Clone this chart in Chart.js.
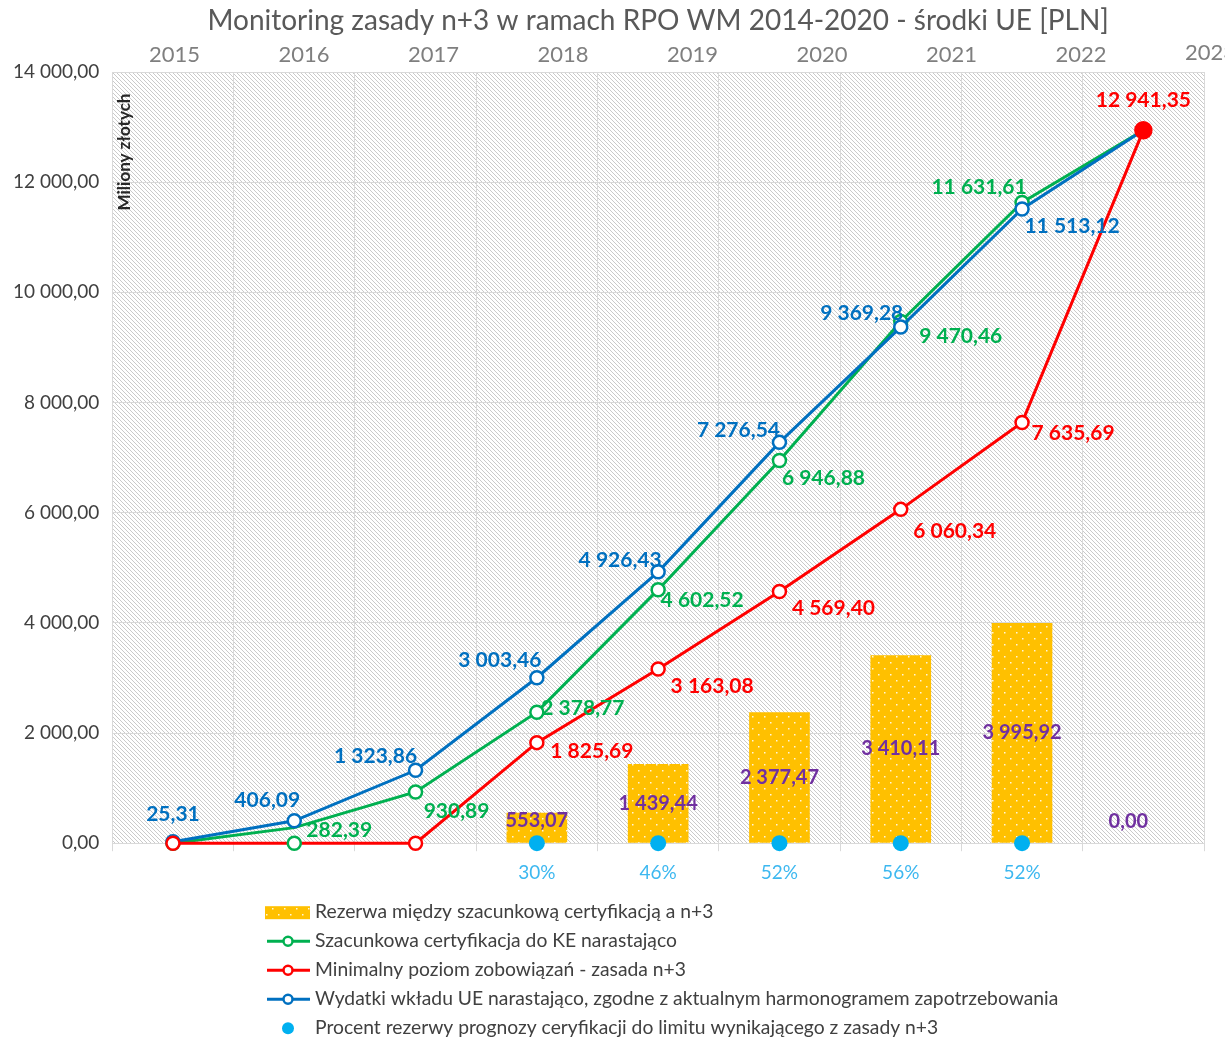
<!DOCTYPE html>
<html>
<head>
<meta charset="utf-8">
<script src="https://cdn.jsdelivr.net/npm/chart.js@4.4.1/dist/chart.umd.min.js"></script>
<style>
  html, body { margin: 0; padding: 0; background: #fff; }
  #wrap { width: 1225px; height: 1039px; }
</style>
</head>
<body>
<div id="wrap"><canvas id="myChart"></canvas></div>
<script>
// dane
const categories = ['2015', '2016', '2017', '2018', '2019', '2020', '2021', '2022', '2023'];
const yearTicks = [2015, 2016, 2017, 2018, 2019, 2020, 2021, 2022, 2023];
const yTicks = [0, 2000, 4000, 6000, 8000, 10000, 12000, 14000];
const wydatki = [25.31, 406.09, 1323.86, 3003.46, 4926.43, 7276.54, 9369.28, 11513.12, 12941.35];
const certyfikacja = [0, 282.39, 930.89, 2378.77, 4602.52, 6946.88, 9470.46, 11631.61, 12941.35];
const minimalny = [0, 0, 0, 1825.69, 3163.08, 4569.40, 6060.34, 7635.69, 12941.35];
const rezerwa = [null, null, null, 553.07, 1439.44, 2377.47, 3410.11, 3995.92, 0];
const procent = [null, null, null, 30, 46, 52, 56, 52, null];

const FONT = 'Lato, "Open Sans", sans-serif';

// 12 345,67
function fmt(v) {
    const parts = v.toFixed(2).split('.');
    return parts[0].replace(/\B(?=(\d{3})+(?!\d))/g, ' ') + ',' + parts[1];
}

// tlo w ukosne kreski
function hatchPattern() {
    const c = document.createElement('canvas');
    c.width = 4; c.height = 4;
    const g = c.getContext('2d');
    g.fillStyle = '#ffffff';
    g.fillRect(0, 0, 4, 4);
    g.strokeStyle = '#cacaca';
    g.lineWidth = 1;
    g.beginPath();
    g.moveTo(-1, -1); g.lineTo(5, 5);
    g.moveTo(-1, 3); g.lineTo(1, 5);
    g.moveTo(3, -1); g.lineTo(5, 1);
    g.stroke();
    return g.createPattern(c, 'repeat');
}

// zolte slupki w kropki
function dotPattern() {
    const c = document.createElement('canvas');
    c.width = 12; c.height = 12;
    const g = c.getContext('2d');
    g.fillStyle = '#FFC000';
    g.fillRect(0, 0, 12, 12);
    g.fillStyle = 'rgba(255,255,255,0.85)';
    g.fillRect(2, 2, 1.5, 1.5);
    g.fillRect(8, 8, 1.5, 1.5);
    return g.createPattern(c, 'repeat');
}

const barFill = dotPattern();

const plotBackground = {
    id: 'plotBackground',
    beforeDraw(chart) {
        const a = chart.chartArea;
        const ctx = chart.ctx;
        ctx.save();
        ctx.fillStyle = hatchPattern();
        ctx.fillRect(a.left, a.top, a.right - a.left, a.bottom - a.top);
        ctx.restore();
    }
};

const valueLabels = {
    id: 'valueLabels',
    afterDatasetsDraw(chart) {
        const ctx = chart.ctx;
        ctx.save();
        ctx.textAlign = 'center';
        ctx.textBaseline = 'middle';
        chart.data.datasets.forEach((ds, di) => {
            const meta = chart.getDatasetMeta(di);
            if (ds.labelOffsets) {
                ctx.font = 'bold 21px ' + FONT;
                ctx.fillStyle = ds.labelColor;
                ds.labelOffsets.forEach((off, i) => {
                    if (!off || ds.data[i] == null) return;
                    const p = meta.data[i];
                    ctx.fillText(fmt(ds.data[i]), p.x + off[0], p.y + off[1]);
                });
            }
            if (ds.type === 'bar') {
                ctx.font = 'bold 20px ' + FONT;
                ctx.fillStyle = '#7030A0';
                meta.data.forEach((b, i) => {
                    if (ds.data[i] == null) return;
                    const y = Math.min((b.y + b.base) / 2, b.base - 22);
                    const dx = ds.data[i] === 0 ? -15 : 0;
                    ctx.fillText(fmt(ds.data[i]), b.x + dx, y);
                });
            }
        });
        ctx.restore();
    }
};

const extras = {
    id: 'extras',
    afterDraw(chart) {
        const ctx = chart.ctx;
        const a = chart.chartArea;
        ctx.save();
        // tytul osi Y wewnatrz wykresu
        ctx.translate(a.left + 12, a.top + 80);
        ctx.rotate(-Math.PI / 2);
        ctx.font = 'bold 17px ' + FONT;
        ctx.fillStyle = '#262626';
        ctx.textAlign = 'center';
        ctx.textBaseline = 'middle';
        ctx.fillText('Miliony złotych', 0, 0);
        ctx.restore();

        // ostatni rok na gornej osi (wychodzi poza obszar)
        const top = chart.scales.x2;
        ctx.save();
        ctx.font = '22px ' + FONT;
        ctx.fillStyle = '#7f7f7f';
        ctx.textAlign = 'center';
        ctx.textBaseline = 'middle';
        const lastYear = yearTicks[yearTicks.length - 1];
        ctx.fillText(String(lastYear), top.getPixelForValue(lastYear), top.bottom - 19);
        ctx.restore();

        // legenda
        const items = [
            { ds: 0, kind: 'bar' },
            { ds: 1, kind: 'line' },
            { ds: 2, kind: 'line' },
            { ds: 3, kind: 'line' },
            { ds: 4, kind: 'dot' }
        ];
        const x0 = 265;
        let y = a.bottom + 69;
        ctx.save();
        ctx.font = '19.3px ' + FONT;
        ctx.textBaseline = 'middle';
        items.forEach(it => {
            const ds = chart.data.datasets[it.ds];
            if (it.kind === 'bar') {
                ctx.fillStyle = barFill;
                ctx.fillRect(x0, y - 6, 45, 13);
            } else if (it.kind === 'line') {
                ctx.strokeStyle = ds.borderColor;
                ctx.lineWidth = 3;
                ctx.beginPath();
                ctx.moveTo(x0 + 2, y);
                ctx.lineTo(x0 + 45, y);
                ctx.stroke();
                ctx.beginPath();
                ctx.arc(x0 + 23, y, 4.5, 0, Math.PI * 2);
                ctx.fillStyle = '#fff';
                ctx.fill();
                ctx.lineWidth = 2.5;
                ctx.stroke();
            } else {
                ctx.beginPath();
                ctx.arc(x0 + 23, y, 6, 0, Math.PI * 2);
                ctx.fillStyle = ds.backgroundColor;
                ctx.fill();
            }
            ctx.fillStyle = '#404040';
            ctx.fillText(ds.label, x0 + 50, y);
            y += 29;
        });
        ctx.restore();
    }
};

const ctx = document.getElementById('myChart').getContext('2d');
const myChart = new Chart(ctx, {
    type: 'bar',
    data: {
        labels: categories,
        datasets: [
            {
                type: 'bar',
                label: 'Rezerwa między szacunkową certyfikacją a n+3',
                data: rezerwa,
                backgroundColor: barFill,
                barPercentage: 0.5,
                categoryPercentage: 1,
                order: 5
            },
            {
                type: 'line',
                label: 'Szacunkowa certyfikacja do KE narastająco',
                data: certyfikacja,
                borderColor: '#00B050',
                backgroundColor: '#ffffff',
                pointBorderColor: '#00B050',
                pointBackgroundColor: '#ffffff',
                borderWidth: 3,
                pointRadius: [6.5, 0, 6.5, 6.5, 6.5, 6.5, 6.5, 6.5, 6.5],
                pointBorderWidth: 2.5,
                clip: false,
                labelColor: '#00B050',
                labelOffsets: [null, [45, 3], [41, 19], [46, -4], [44, 11], [44, 18], [60, 15], [-43, -15], null],
                order: 3
            },
            {
                type: 'line',
                label: 'Minimalny poziom zobowiązań - zasada n+3',
                data: minimalny,
                borderColor: '#FF0000',
                backgroundColor: '#ffffff',
                pointBorderColor: ['#FF0000', '#00B050', '#FF0000', '#FF0000', '#FF0000', '#FF0000', '#FF0000', '#FF0000', '#FF0000'],
                pointBackgroundColor: ['#fff', '#fff', '#fff', '#fff', '#fff', '#fff', '#fff', '#fff', '#FF0000'],
                borderWidth: 3,
                pointRadius: [6.5, 6.5, 6.5, 6.5, 6.5, 6.5, 6.5, 6.5, 8],
                pointBorderWidth: 2.5,
                clip: false,
                labelColor: '#FF0000',
                labelOffsets: [null, null, null, [55, 9], [54, 17], [54, 17], [54, 22], [51, 11], [0, -30]],
                order: 1
            },
            {
                type: 'line',
                label: 'Wydatki wkładu UE narastająco, zgodne z aktualnym harmonogramem zapotrzebowania',
                data: wydatki,
                borderColor: '#0070C0',
                backgroundColor: '#ffffff',
                pointBorderColor: '#0070C0',
                pointBackgroundColor: '#ffffff',
                borderWidth: 3,
                pointRadius: [6.5, 6.5, 6.5, 6.5, 6.5, 6.5, 6.5, 6.5, 0],
                pointBorderWidth: 2.5,
                clip: false,
                labelColor: '#0070C0',
                labelOffsets: [[0, -28], [-27, -21], [-40, -14], [-37, -18], [-38, -12], [-41, -12], [-39, -14], [50, 17], null],
                order: 2
            },
            {
                type: 'line',
                label: 'Procent rezerwy prognozy ceryfikacji do limitu wynikającego z zasady n+3',
                data: procent.map(p => (p == null ? null : 0)),
                showLine: false,
                borderColor: '#00B0F0',
                backgroundColor: '#00B0F0',
                pointBackgroundColor: '#00B0F0',
                pointBorderWidth: 0,
                pointRadius: 8,
                clip: false,
                order: 0
            }
        ]
    },
    options: {
        responsive: true,
        maintainAspectRatio: false,
        animation: false,
        layout: { padding: { left: 0, right: 21, top: 0, bottom: 145 } },
        plugins: {
            legend: { display: false },
            tooltip: { enabled: false },
            title: {
                display: true,
                fullSize: false,
                text: 'Monitoring zasady n+3 w ramach RPO WM 2014-2020 - środki UE [PLN]',
                color: '#595959',
                font: { family: FONT, size: 28, weight: 'normal' },
                padding: { top: 4, bottom: 0 }
            }
        },
        scales: {
            x: {
                type: 'category',
                offset: true,
                grid: { offset: true, color: '#d9d9d9', tickLength: 8, drawTicks: true },
                border: { color: '#d9d9d9' },
                ticks: {
                    color: '#3DB8F0',
                    font: { family: FONT, size: 19 },
                    padding: 10,
                    maxRotation: 0,
                    autoSkip: false,
                    callback: (v, i) => (procent[i] == null ? '' : procent[i] + '%')
                }
            },
            x2: {
                type: 'linear',
                position: 'top',
                offset: false,
                min: 2014.52,
                max: 2022.95,
                grid: { display: false, drawTicks: false, offset: false },
                border: { display: false },
                afterBuildTicks: s => { s.ticks = yearTicks.filter(v => v >= s.min && v <= s.max).map(v => ({ value: v })); },
                ticks: {
                    color: '#7f7f7f',
                    font: { family: FONT, size: 22 },
                    padding: 4,
                    maxRotation: 0,
                    autoSkip: false,
                    callback: v => String(v)
                }
            },
            y: {
                min: 0,
                max: 14000,
                afterBuildTicks: s => { s.ticks = yTicks.map(v => ({ value: v })); },
                grid: { color: '#d9d9d9', drawTicks: false },
                border: { color: '#d9d9d9' },
                ticks: {
                    color: '#404040',
                    font: { family: FONT, size: 19 },
                    padding: 13,
                    callback: v => fmt(v)
                }
            }
        }
    },
    plugins: [plotBackground, valueLabels, extras]
});
</script>
</body>
</html>
